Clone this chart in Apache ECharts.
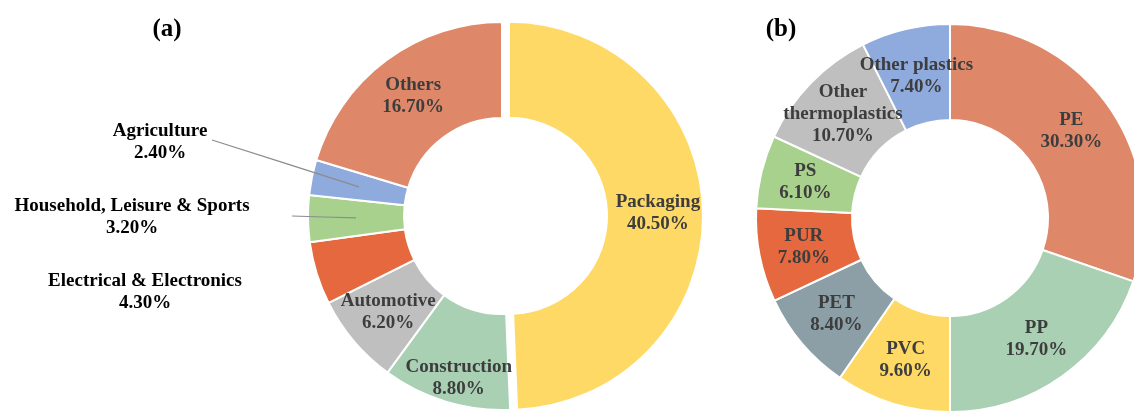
<!DOCTYPE html>
<html>
<head>
<meta charset="utf-8">
<script src="https://cdn.jsdelivr.net/npm/echarts@6/dist/echarts.min.js"></script>
<style>
html,body{margin:0;padding:0;background:#fff;}
#chart{width:1134px;height:413px;}
</style>
</head>
<body>
<div id="chart"></div>
<script>
// ---- Data ----
const sectorNames = ['Packaging', 'Construction', 'Automotive', 'Electrical & Electronics', 'Household, Leisure & Sports', 'Agriculture', 'Others'];
const sectorValues = [40.5, 8.8, 6.2, 4.3, 3.2, 2.4, 16.7];
const sectorColors = ['#FED966', '#A9D0B3', '#BFBFBF', '#E5683F', '#A9D18E', '#8FAADC', '#DE8869'];

const polymerNames = ['PE', 'PP', 'PVC', 'PET', 'PUR', 'PS', 'Other thermoplastics', 'Other plastics'];
const polymerValues = [30.3, 19.7, 9.6, 8.4, 7.8, 6.1, 10.7, 7.4];
const polymerColors = ['#DE8869', '#A9D0B3', '#FED966', '#8C9FA6', '#E5683F', '#A9D18E', '#BFBFBF', '#8FAADC'];

const panelTitles = ['(a)', '(b)'];

// ---- Layout ----
const FONT = "'Liberation Serif', 'Times New Roman', serif";
const centerA = [502, 216], centerB = [950, 218];
const radii = [98, 194];
const midR = (radii[0] + radii[1]) / 2;

// outside label placements for small left-pie slices
const outsideLabels = {
  'Electrical & Electronics': { x: 145, y: 292, line: false },
  'Household, Leisure & Sports': { x: 132, y: 217, line: true, sx: 292, sy: 216 },
  'Agriculture': { x: 160, y: 142, line: true, sx: 212, sy: 140 }
};

function fmt(p) {
  const n = p.name.replace('Other thermoplastics', 'Other\nthermoplastics');
  return n + '\n' + p.value.toFixed(2) + '%';
}

const labelBase = {
  show: true, position: 'inside', formatter: fmt,
  fontFamily: FONT, fontWeight: 'bold', fontSize: 19, lineHeight: 22,
  color: '#3d3d3d'
};

function ringPoint(center, p) {
  const p0 = p.labelLinePoints[0];
  const dx = p0[0] - center[0], dy = p0[1] - center[1];
  const len = Math.sqrt(dx * dx + dy * dy) || 1;
  return [center[0] + dx / len * midR, center[1] + dy / len * midR];
}

// base ring (a)
const dataA = sectorNames.map((n, i) => {
  const item = { name: n, value: sectorValues[i], itemStyle: { color: sectorColors[i] } };
  if (i === 0) item.selected = true;
  if (outsideLabels[n]) item.label = { show: false };
  return item;
});
// overlay ring (a): only outside labels and leader lines, drawn above the slices
const dataAOver = sectorNames.map((n, i) => {
  const item = { name: n, value: sectorValues[i] };
  if (outsideLabels[n]) {
    item.label = { show: true, position: 'outside', color: '#000' };
    item.labelLine = { show: outsideLabels[n].line, lineStyle: { color: '#8C8C8C', width: 1.2 } };
  } else {
    item.label = { show: false };
    item.labelLine = { show: false };
  }
  return item;
});
const dataB = polymerNames.map((n, i) => {
  const item = { name: n, value: polymerValues[i], itemStyle: { color: polymerColors[i] } };
  if (n === 'Other plastics') {
    item.label = { position: 'outside' };
    item.labelLine = { show: false };
  }
  return item;
});

const chart = echarts.init(document.getElementById('chart'), null, { renderer: 'canvas' });
chart.setOption({
  backgroundColor: '#fff',
  animation: false,
  title: [
    { text: panelTitles[0], left: 162, top: 25, textAlign: 'center', textVerticalAlign: 'middle',
      textStyle: { fontFamily: FONT, fontWeight: 'bold', fontSize: 25, color: '#000' } },
    { text: panelTitles[1], left: 776, top: 25, textAlign: 'center', textVerticalAlign: 'middle',
      textStyle: { fontFamily: FONT, fontWeight: 'bold', fontSize: 25, color: '#000' } }
  ],
  series: [
    {
      type: 'pie', center: centerA, radius: radii, startAngle: 90, clockwise: true,
      selectedMode: 'single', selectedOffset: 7,
      avoidLabelOverlap: false, z: 2,
      itemStyle: { borderColor: '#fff', borderWidth: 2 },
      label: labelBase,
      emphasis: { disabled: true },
      labelLayout: function (p) {
        if (sectorNames[p.dataIndex] === 'Construction') return { dy: 20 };
        return {};
      },
      data: dataA
    },
    {
      type: 'pie', center: centerA, radius: radii, startAngle: 90, clockwise: true,
      avoidLabelOverlap: false, silent: true, z: 5,
      itemStyle: { color: 'rgba(0,0,0,0)', borderWidth: 0 },
      label: labelBase,
      emphasis: { disabled: true },
      labelLayout: function (p) {
        const o = outsideLabels[sectorNames[p.dataIndex]];
        if (!o) return {};
        const res = { x: o.x, y: o.y, align: 'center', verticalAlign: 'middle' };
        if (o.line && p.labelLinePoints) {
          const e = ringPoint(centerA, p);
          res.labelLinePoints = [[o.sx, o.sy], [(o.sx + e[0]) / 2, (o.sy + e[1]) / 2], e];
        }
        return res;
      },
      data: dataAOver
    },
    {
      type: 'pie', center: centerB, radius: radii, startAngle: 90, clockwise: true,
      avoidLabelOverlap: false, z: 2,
      itemStyle: { borderColor: '#fff', borderWidth: 2 },
      label: labelBase,
      emphasis: { disabled: true },
      labelLayout: function (p) {
        if (polymerNames[p.dataIndex] === 'Other plastics' && p.labelLinePoints) {
          const e = ringPoint(centerB, p);
          return { x: e[0], y: e[1], align: 'center', verticalAlign: 'middle' };
        }
        return {};
      },
      data: dataB
    }
  ]
});
</script>
</body>
</html>
